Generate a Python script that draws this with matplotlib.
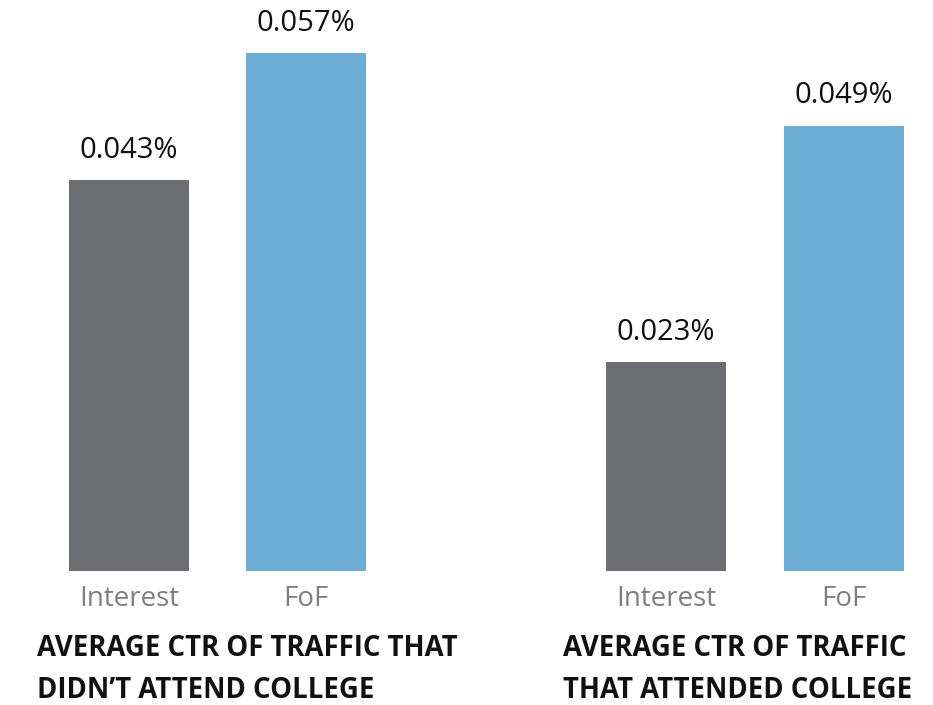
import matplotlib
matplotlib.use("Agg")
import matplotlib.pyplot as plt

categories = ["Interest", "FoF"]
left_values = [0.043, 0.057]
right_values = [0.023, 0.049]
left_title = "AVERAGE CTR OF TRAFFIC THAT\nDIDN\u2019T ATTEND COLLEGE"
right_title = "AVERAGE CTR OF TRAFFIC\nTHAT ATTENDED COLLEGE"
colors = ["#6d6e72", "#6badd4"]

W, H = 933, 705
fig = plt.figure(figsize=(W / 100, H / 100), dpi=100)
base = 571
ymax = 0.057 * base / 518

def make(x0, x1, values, title, tx):
    ax = fig.add_axes([x0 / W, 1 - base / H, (x1 - x0) / W, base / H])
    pos = range(len(values))
    ax.bar(pos, values, width=120 / 177, color=colors)
    ax.set_xlim(-0.5, 1.5)
    ax.set_ylim(0, ymax)
    ax.axis("off")
    for p, v in zip(pos, values):
        ax.annotate(f"{v:.3f}%", (p, v), xytext=(0, 11), textcoords="offset points",
                    ha="center", va="bottom", fontsize=21, family="Open Sans", color="#111111")
        ax.annotate(categories[p], (p, 0), xytext=(0, -10), textcoords="offset points",
                    ha="center", va="top", fontsize=20, family="Open Sans", color="#7f7f7f")
    fig.text(tx / W, 1 - 634 / H, title, ha="left", va="top", fontsize=19.8,
             family="Open Sans", fontweight="bold",
             color="#111111", linespacing=1.6)

make(40.5, 394.5, left_values, left_title, 37)
make(577.5, 932.5, right_values, right_title, 563)

fig.savefig("out.png", dpi=100)
